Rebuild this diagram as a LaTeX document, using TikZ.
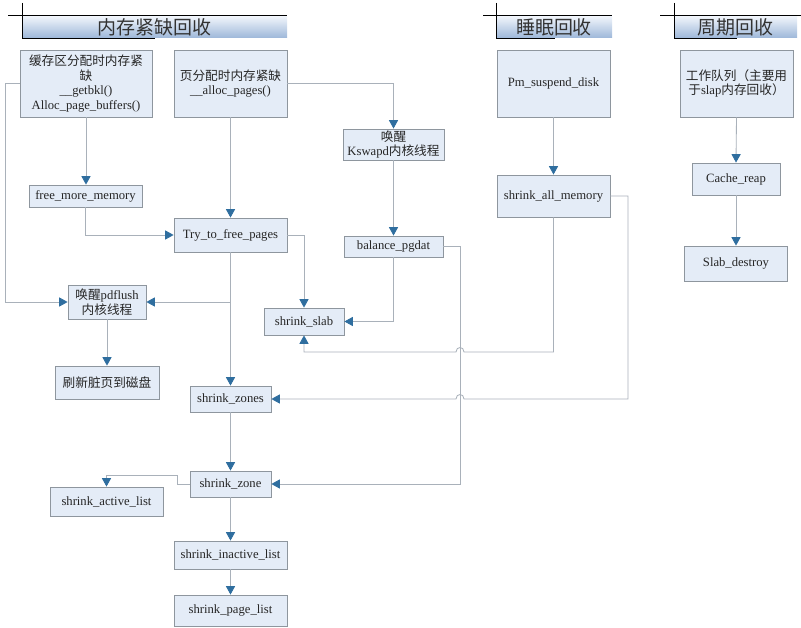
\documentclass[tikz,border=0pt]{standalone}
\usepackage{fontspec}
\setmainfont{Liberation Serif}
\newfontfamily\cjk{Noto Sans CJK SC}
\usetikzlibrary{arrows.meta}
\definecolor{boxfill}{HTML}{E4ECF7}
\definecolor{boxline}{HTML}{8E969E}
\definecolor{linkgray}{HTML}{A9B1BA}
\definecolor{tipblue}{HTML}{2F6E9F}
\definecolor{headtop}{HTML}{EEF3FA}
\definecolor{headbot}{HTML}{9DB7D9}

\begin{document}
\begin{tikzpicture}[x=0.025cm,y=-0.025cm,
  sz/.style 2 args={minimum width=#1*0.025cm,minimum height=#2*0.025cm},
  box/.style={draw=boxline,fill=boxfill,line width=0.6pt,inner sep=1pt,align=center,
    font=\fontsize{9}{10.5}\selectfont,text=black!85},
  link/.style={draw=linkgray,line width=0.6pt,-{Triangle[color=tipblue,length=6pt,width=6.5pt]}},
  header/.style={top color=headtop,bottom color=headbot,inner sep=0pt,
    font=\cjk\fontsize{13.5}{14}\selectfont,text=black!80}]
\useasboundingbox (0,0) rectangle (801,628);

% ========= 标题栏 =========
\node[header,sz={265}{21}] (hmem) at (154.5,27.5) {内存紧缺回收};
\node[header,sz={116}{21}] (hsleep) at (554,27.5) {睡眠回收};
\node[header,sz={123}{21}] (hcycle) at (735.5,27.5) {周期回收};
\draw[line width=0.7pt] (8,15) -- (287,15);
\draw[line width=0.7pt] (22,3) -- (22,38) -- (155,38);
\draw[line width=0.7pt] (483,15) -- (612,15);
\draw[line width=0.7pt] (496,3) -- (496,38) -- (555,38);
\draw[line width=0.7pt] (660,15) -- (801,15);
\draw[line width=0.7pt] (674,3) -- (674,38) -- (737,38);

% ========= 内存紧缺回收 =========
\node[box,sz={132}{67}] (buf) at (86,83.5) {{\cjk 缓存区分配时内存紧}\\{\cjk 缺}\\\_\_getbkl()\\Alloc\_page\_buffers()};
\node[box,sz={113}{67}] (alloc) at (230.5,83.5) {{\cjk 页分配时内存紧缺}\\\_\_alloc\_pages()};
\node[box,sz={101}{31}] (kswapd) at (393.5,144.5) {{\cjk 唤醒}\\Kswapd{\cjk 内核线程}};
\node[box,sz={113}{22}] (freemem) at (85.5,196) {free\_more\_memory};
\node[box,sz={113}{34}] (try) at (230.5,235) {Try\_to\_free\_pages};
\node[box,sz={99}{21}] (balance) at (393.5,246.5) {balance\_pgdat};
\node[box,sz={78}{34}] (pdflush) at (107,302) {{\cjk 唤醒}pdflush\\{\cjk 内核线程}};
\node[box,sz={80}{27}] (slab) at (304,321.5) {shrink\_slab};
\node[box,sz={104}{33}] (flush) at (107,382.5) {\cjk 刷新脏页到磁盘};
\node[box,sz={81}{26}] (zones) at (230.5,399) {shrink\_zones};
\node[box,sz={81}{26}] (zone) at (230.5,484) {shrink\_zone};
\node[box,sz={113}{29}] (active) at (106.5,501.5) {shrink\_active\_list};
\node[box,sz={113}{28}] (inactive) at (230.5,555) {shrink\_inactive\_list};
\node[box,sz={113}{31}] (pagelist) at (230.5,610.5) {shrink\_page\_list};

% ========= 睡眠回收 =========
\node[box,sz={113}{67}] (suspend) at (553.5,83.5) {Pm\_suspend\_disk};
\node[box,sz={113}{42}] (shrinkall) at (553.5,196) {shrink\_all\_memory};

% ========= 周期回收 =========
\node[box,sz={113}{67}] (workq) at (736.5,83.5) {{\cjk 工作队列（主要用}\\{\cjk 于}slap{\cjk 内存回收）}};
\node[box,sz={88}{32}] (cachereap) at (736,179) {Cache\_reap};
\node[box,sz={103}{35}] (slabdestroy) at (736,263.5) {Slab\_destroy};

% ========= 连线 =========
\draw[link] (buf.south) -- (buf.south |- freemem.north);
\draw[link] (buf.west) -- (5,83.5) |- (pdflush.west);
\draw[link] (alloc.south) -- (try.north);
\draw[link] (alloc.east) -| (kswapd.north);
\draw[link] (freemem.south) |- (try.west);
\draw[link] (try.east) -| (slab.north);
\draw[link] (try.south) -- (zones.north);
\draw[link] (try.south |- pdflush.east) -- (pdflush.east);
\draw[link] (kswapd.south) -- (balance.north);
\draw[link] (balance.south) |- (slab.east);
\draw[link] (balance.east) -| (460,484) -- (zone.east);
\draw[link] (pdflush.south) -- (flush.north);
\draw[link] (zones.south) -- (zone.north);
\draw[link] (zone.west) -- (177,484) -- (177,475) -| (active.north);
\draw[link] (zone.south) -- (inactive.north);
\draw[link] (inactive.south) -- (pagelist.north);
\draw[link] (suspend.south) -- (shrinkall.north);
\draw[link] (shrinkall.south) |- (464,352) .. controls (464,346) and (456,346) .. (456,352) -| (slab.south);
\draw[link] (shrinkall.east) -| (628,399) -- (464,399) .. controls (464,393) and (456,393) .. (456,399) -- (zones.east);
\draw[link] (workq.south) -- (cachereap.north);
\draw[link] (cachereap.south) -- (slabdestroy.north);
\end{tikzpicture}
\end{document}
